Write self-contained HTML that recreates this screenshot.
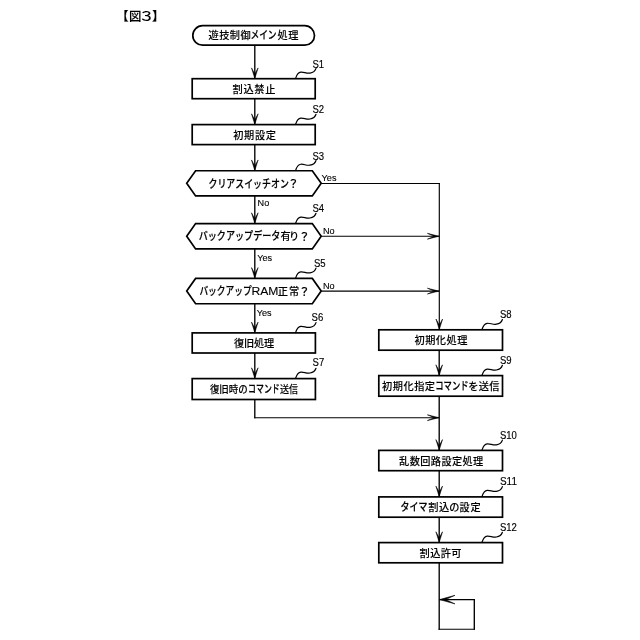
<!DOCTYPE html>
<html lang="ja">
<head>
<meta charset="utf-8">
<title>図３</title>
<style>
html,body{margin:0;padding:0;background:#fff;}
body{width:640px;height:640px;overflow:hidden;}
svg{display:block;filter:blur(0.3px);}
.bx{fill:#fff;stroke:#000;stroke-width:1.7;stroke-linejoin:miter;}
.lv{fill:none;stroke:#000;stroke-width:1.35;}
.lh{fill:none;stroke:#000;stroke-width:1.05;}
.ah{fill:#000;stroke:#000;stroke-width:0.55;stroke-linejoin:miter;}
.sq{fill:none;stroke:#000;stroke-width:1.2;stroke-linecap:round;}
.jt{font-family:"Liberation Sans", "Noto Sans CJK JP", sans-serif;font-weight:500;fill:#000;stroke:#000;stroke-width:0.1;}
.jk{stroke-width:0.2;}
.tt{font-family:"Liberation Sans", "Noto Sans CJK JP", sans-serif;font-weight:500;fill:#000;stroke:#000;stroke-width:0.12;}
.lb{font-family:"Liberation Sans",sans-serif;font-size:10px;fill:#000;stroke:#000;stroke-width:0.15;}
.sm{font-family:"Liberation Sans",sans-serif;font-size:9.1px;fill:#000;stroke:#000;stroke-width:0.12;}
</style>
</head>
<body>
<svg width="640" height="640" viewBox="0 0 640 640">
<rect x="0" y="0" width="640" height="640" fill="#fff"/>
<text y="20.7" class="tt" font-size="12.4"><tspan x="116.2">【</tspan><tspan x="129.1">図</tspan><tspan x="138.5" textLength="16.2" lengthAdjust="spacingAndGlyphs" stroke-width="0">３</tspan><tspan x="152.1">】</tspan></text>
<rect x="192.8" y="25.7" width="121.70" height="19.5" rx="9.75" ry="9.75" class="bx"/>
<text x="208.59" y="39.37" letter-spacing="0.44" class="jt" font-size="10.2">遊技制御</text>
<text x="250.40" y="39.45" textLength="26.20" lengthAdjust="spacingAndGlyphs" class="jt jk" font-size="11.0">メイン</text>
<text x="282.60" y="39.37" text-anchor="middle" class="jt" font-size="10.2">処</text>
<text x="293.30" y="39.37" text-anchor="middle" class="jt" font-size="10.2">理</text>
<path d="M254.8,45.2 V78.7" class="lv"/>
<path d="M254.8,78.5 L251.5,67.9 L254.8,73.9 L258.1,67.9 Z" class="ah"/>
<rect x="192.2" y="78.7" width="123.00" height="20.00" class="bx"/>
<text x="232.59" y="92.77" letter-spacing="0.67" class="jt" font-size="10.2">割込禁止</text>
<path d="M295.6,78.4 c1.1,-3.4 2.8,-6.0 5.2,-6.2 c3.2,-0.3 5.6,1.5 9.2,0.9 c3.2,-0.5 5.2,-2.2 6,-4.7" class="sq"/>
<text x="312.4" y="67.5" textLength="11.62" lengthAdjust="spacingAndGlyphs" class="lb">S1</text>
<path d="M254.8,98.7 V124.6" class="lv"/>
<path d="M254.8,124.4 L251.5,113.8 L254.8,119.8 L258.1,113.8 Z" class="ah"/>
<rect x="192.2" y="124.6" width="123.00" height="20.00" class="bx"/>
<text x="233.29" y="138.87" letter-spacing="0.61" class="jt" font-size="10.2">初期設定</text>
<path d="M295.6,124.3 c1.1,-3.4 2.8,-6.0 5.2,-6.2 c3.2,-0.3 5.6,1.5 9.2,0.9 c3.2,-0.5 5.2,-2.2 6,-4.7" class="sq"/>
<text x="312.4" y="113.4" textLength="11.62" lengthAdjust="spacingAndGlyphs" class="lb">S2</text>
<path d="M254.8,144.6 V170.75" class="lv"/>
<path d="M254.8,170.55 L251.5,159.95 L254.8,165.95 L258.1,159.95 Z" class="ah"/>
<polygon points="186.7,183.325 195.6,170.75 312.3,170.75 321.2,183.325 312.3,195.9 195.6,195.9" class="bx"/>
<text x="208.50" y="187.65" textLength="80.30" lengthAdjust="spacingAndGlyphs" class="jt jk" font-size="11.0">クリアスイッチオン</text>
<text x="293.45" y="187.94" text-anchor="middle" class="jt" font-size="11.2">？</text>
<path d="M295.6,170.45 c1.1,-3.4 2.8,-6.0 5.2,-6.2 c3.2,-0.3 5.6,1.5 9.2,0.9 c3.2,-0.5 5.2,-2.2 6,-4.7" class="sq"/>
<text x="312.4" y="159.55" textLength="11.62" lengthAdjust="spacingAndGlyphs" class="lb">S3</text>
<text x="321.6" y="181.3" class="sm">Yes</text>
<text x="257.6" y="206.3" class="sm">No</text>
<path d="M254.8,195.9 V223.6" class="lv"/>
<path d="M254.8,223.4 L251.5,212.8 L254.8,218.8 L258.1,212.8 Z" class="ah"/>
<polygon points="186.7,236.25 195.6,223.6 312.3,223.6 321.2,236.25 312.3,248.9 195.6,248.9" class="bx"/>
<text x="198.70" y="240.45" textLength="81.70" lengthAdjust="spacingAndGlyphs" class="jt jk" font-size="11.0">バックアップデータ</text>
<text x="285.55" y="240.37" text-anchor="middle" class="jt" font-size="10.2">有</text>
<text x="294.15" y="240.37" text-anchor="middle" class="jt" font-size="10.2">り</text>
<text x="304.45" y="240.74" text-anchor="middle" class="jt" font-size="11.2">？</text>
<path d="M295.6,223.3 c1.1,-3.4 2.8,-6.0 5.2,-6.2 c3.2,-0.3 5.6,1.5 9.2,0.9 c3.2,-0.5 5.2,-2.2 6,-4.7" class="sq"/>
<text x="312.4" y="212.4" textLength="11.62" lengthAdjust="spacingAndGlyphs" class="lb">S4</text>
<text x="323.0" y="234.2" class="sm">No</text>
<text x="257.2" y="260.5" class="sm">Yes</text>
<path d="M254.8,248.9 V278.4" class="lv"/>
<path d="M254.8,278.2 L251.5,267.6 L254.8,273.6 L258.1,267.6 Z" class="ah"/>
<polygon points="186.7,291.075 195.6,278.4 312.3,278.4 321.2,291.075 312.3,303.75 195.6,303.75" class="bx"/>
<text x="199.40" y="295.45" textLength="52.20" lengthAdjust="spacingAndGlyphs" class="jt jk" font-size="11.0">バックアップ</text>
<text x="251.40" y="295.49" textLength="27.00" lengthAdjust="spacingAndGlyphs" class="jt" font-size="10.8">RAM</text>
<text x="282.90" y="295.37" text-anchor="middle" class="jt" font-size="10.2">正</text>
<text x="294.15" y="295.37" text-anchor="middle" class="jt" font-size="10.2">常</text>
<text x="304.45" y="295.74" text-anchor="middle" class="jt" font-size="11.2">？</text>
<path d="M295.6,278.1 c1.1,-3.4 2.8,-6.0 5.2,-6.2 c3.2,-0.3 5.6,1.5 9.2,0.9 c3.2,-0.5 5.2,-2.2 6,-4.7" class="sq"/>
<text x="314.0" y="267.2" textLength="11.62" lengthAdjust="spacingAndGlyphs" class="lb">S5</text>
<text x="323.0" y="288.9" class="sm">No</text>
<text x="256.8" y="316" class="sm">Yes</text>
<path d="M254.8,303.75 V332.9" class="lv"/>
<path d="M254.8,332.7 L251.5,322.1 L254.8,328.1 L258.1,322.1 Z" class="ah"/>
<rect x="192.2" y="332.9" width="123.20" height="20.10" class="bx"/>
<text x="233.99" y="346.87" letter-spacing="-0.19" class="jt" font-size="10.2">復旧処理</text>
<path d="M295.6,332.6 c1.1,-3.4 2.8,-6.0 5.2,-6.2 c3.2,-0.3 5.6,1.5 9.2,0.9 c3.2,-0.5 5.2,-2.2 6,-4.7" class="sq"/>
<text x="311.6" y="321.0" textLength="11.62" lengthAdjust="spacingAndGlyphs" class="lb">S6</text>
<path d="M254.8,353 V378.6" class="lv"/>
<path d="M254.8,378.4 L251.5,367.8 L254.8,373.8 L258.1,367.8 Z" class="ah"/>
<rect x="192.2" y="378.6" width="123.20" height="20.90" class="bx"/>
<text x="209.90" y="392.97" textLength="37.80" lengthAdjust="spacingAndGlyphs" class="jt" font-size="10.2">復旧時の</text>
<text x="248.10" y="393.05" textLength="31.70" lengthAdjust="spacingAndGlyphs" class="jt jk" font-size="11.0">コマンド</text>
<text x="280.00" y="392.97" textLength="18.10" lengthAdjust="spacingAndGlyphs" class="jt" font-size="10.2">送信</text>
<path d="M295.6,378.3 c1.1,-3.4 2.8,-6.0 5.2,-6.2 c3.2,-0.3 5.6,1.5 9.2,0.9 c3.2,-0.5 5.2,-2.2 6,-4.7" class="sq"/>
<text x="312.6" y="366" textLength="11.62" lengthAdjust="spacingAndGlyphs" class="lb">S7</text>
<path d="M254.8,399.5 V418.2" class="lv"/>
<path d="M254.1,417.7 H439.2" class="lh"/>
<path d="M439.0,417.7 L427.4,414.8 L434.0,417.7 L427.4,420.6 Z" class="ah"/>
<path d="M321.2,183.5 H439.9" class="lh"/>
<path d="M321.2,236.25 H439.2" class="lh"/>
<path d="M439.0,236.25 L427.4,233.35 L434.0,236.25 L427.4,239.15 Z" class="ah"/>
<path d="M321.2,291.1 H439.2" class="lh"/>
<path d="M439.0,291.1 L427.4,288.2 L434.0,291.1 L427.4,294.0 Z" class="ah"/>
<path d="M439.3,182.95 V329.8" class="lv" style="stroke-width:1.15"/>
<path d="M439.3,329.6 L436.0,319.0 L439.3,325.0 L442.6,319.0 Z" class="ah"/>
<rect x="378.8" y="329.8" width="123.70" height="20.40" class="bx"/>
<text x="414.59" y="343.97" letter-spacing="0.45" class="jt" font-size="10.2">初期化処理</text>
<path d="M482,329.5 c1.1,-3.4 2.8,-6.0 5.2,-6.2 c3.2,-0.3 5.6,1.5 9.2,0.9 c3.2,-0.5 5.2,-2.2 6,-4.7" class="sq"/>
<text x="500.0" y="317.9" textLength="11.62" lengthAdjust="spacingAndGlyphs" class="lb">S8</text>
<path d="M439.2,350.2 V375.6" class="lv"/>
<path d="M439.2,375.4 L435.9,364.8 L439.2,370.8 L442.5,364.8 Z" class="ah"/>
<rect x="378.8" y="375.6" width="123.70" height="20.60" class="bx"/>
<text x="381.99" y="389.77" letter-spacing="0.53" class="jt" font-size="10.2">初期化指定</text>
<text x="435.30" y="389.85" textLength="33.30" lengthAdjust="spacingAndGlyphs" class="jt jk" font-size="11.0">コマンド</text>
<text x="473.30" y="389.77" text-anchor="middle" class="jt" font-size="10.2">を</text>
<text x="478.79" y="389.77" letter-spacing="0.32" class="jt" font-size="10.2">送信</text>
<path d="M482,375.3 c1.1,-3.4 2.8,-6.0 5.2,-6.2 c3.2,-0.3 5.6,1.5 9.2,0.9 c3.2,-0.5 5.2,-2.2 6,-4.7" class="sq"/>
<text x="500.0" y="363.7" textLength="11.62" lengthAdjust="spacingAndGlyphs" class="lb">S9</text>
<path d="M439.2,396.2 V450.4" class="lv"/>
<path d="M439.2,450.2 L435.9,439.6 L439.2,445.6 L442.5,439.6 Z" class="ah"/>
<rect x="378.8" y="450.4" width="123.70" height="20.30" class="bx"/>
<text x="399.09" y="464.57" letter-spacing="0.39" class="jt" font-size="10.2">乱数回路設定処理</text>
<path d="M482,450.1 c1.1,-3.4 2.8,-6.0 5.2,-6.2 c3.2,-0.3 5.6,1.5 9.2,0.9 c3.2,-0.5 5.2,-2.2 6,-4.7" class="sq"/>
<text x="500.0" y="438.5" textLength="16.90" lengthAdjust="spacingAndGlyphs" class="lb">S10</text>
<path d="M439.2,470.7 V496.9" class="lv"/>
<path d="M439.2,496.7 L435.9,486.1 L439.2,492.1 L442.5,486.1 Z" class="ah"/>
<rect x="378.8" y="496.9" width="123.70" height="20.30" class="bx"/>
<text x="400.50" y="511.05" textLength="26.90" lengthAdjust="spacingAndGlyphs" class="jt jk" font-size="11.0">タイマ</text>
<text x="428.19" y="510.97" letter-spacing="0.72" class="jt" font-size="10.2">割込</text>
<text x="454.40" y="510.97" text-anchor="middle" class="jt" font-size="10.2">の</text>
<text x="459.39" y="510.97" letter-spacing="0.82" class="jt" font-size="10.2">設定</text>
<path d="M482,496.6 c1.1,-3.4 2.8,-6.0 5.2,-6.2 c3.2,-0.3 5.6,1.5 9.2,0.9 c3.2,-0.5 5.2,-2.2 6,-4.7" class="sq"/>
<text x="500.0" y="485.0" textLength="16.90" lengthAdjust="spacingAndGlyphs" class="lb">S11</text>
<path d="M439.2,517.2 V542.6" class="lv"/>
<path d="M439.2,542.4 L435.9,531.8 L439.2,537.8 L442.5,531.8 Z" class="ah"/>
<rect x="378.8" y="542.6" width="123.70" height="20.20" class="bx"/>
<text x="419.59" y="556.77" letter-spacing="0.41" class="jt" font-size="10.2">割込許可</text>
<path d="M482,542.3 c1.1,-3.4 2.8,-6.0 5.2,-6.2 c3.2,-0.3 5.6,1.5 9.2,0.9 c3.2,-0.5 5.2,-2.2 6,-4.7" class="sq"/>
<text x="500.0" y="530.7" textLength="16.90" lengthAdjust="spacingAndGlyphs" class="lb">S12</text>
<path d="M439.2,562.8 V629.8" class="lv"/>
<path d="M438.5,629.3 H475" class="lh"/>
<path d="M474.3,599.1 V629.8" class="lv"/>
<path d="M439.2,599.6 H475" class="lh"/>
<path d="M439.5,599.6 L455.0,595.3 L445.7,599.6 L455.0,603.9 Z" class="ah"/>
</svg>
</body>
</html>
